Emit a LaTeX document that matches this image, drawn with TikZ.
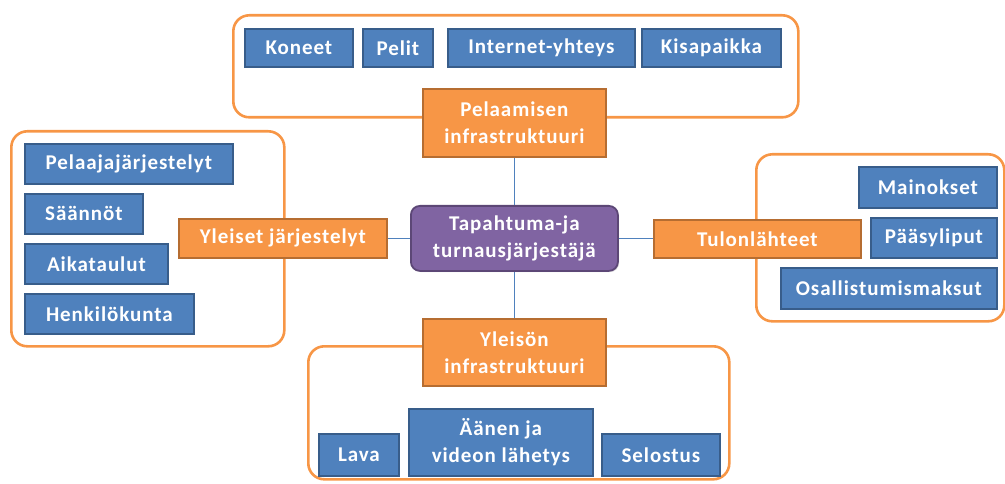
\documentclass[tikz,border=0pt]{standalone}
\usepackage{fontspec}
\setmainfont{Carlito}
\newfontfamily\boxfont[LetterSpace=4.5]{Carlito}
\usetikzlibrary{shadows}
\definecolor{bluef}{HTML}{4F81BD}
\definecolor{blueb}{HTML}{385D8A}
\definecolor{orangef}{HTML}{F79646}
\definecolor{orangeb}{HTML}{B66D31}
\definecolor{purplef}{HTML}{8064A2}
\definecolor{purpleb}{HTML}{5C4776}
\definecolor{conncol}{HTML}{4F81BD}
\begin{document}
\begin{tikzpicture}[x=1pt,y=-1pt,
  boxbase/.style={anchor=north west, inner sep=0pt, line width=1.8pt, text=white,
    align=center, font=\boxfont\bfseries\fontsize{21}{27}\selectfont,
    drop shadow={shadow xshift=1.2pt, shadow yshift=-1.2pt, opacity=0.25}},
  bluebox/.style={boxbase, draw=blueb, fill=bluef},
  orangebox/.style={boxbase, draw=orangeb, fill=orangef},
  centerbox/.style={boxbase, draw=purpleb, fill=purplef, rounded corners=9pt},
  groupbox/.style={anchor=north west, inner sep=0pt, draw=orangef, line width=2.6pt, rounded corners=16pt},
  conn/.style={draw=conncol, line width=0.9pt}
]
\useasboundingbox (0,0) rectangle (1005,484);
% group containers
\node[groupbox, minimum width=565, minimum height=102] (gtop) at (232,14) {};
\node[groupbox, minimum width=273, minimum height=215] (gleft) at (10,130) {};
\node[groupbox, minimum width=248, minimum height=167] (gright) at (755,153) {};
\node[groupbox, minimum width=421, minimum height=133] (gbottom) at (307,345) {};
% center
\node[centerbox, minimum width=207, minimum height=65] (center) at (410,205) {Tapahtuma-ja\\turnausjärjestäjä};
% categories
\node[orangebox, minimum width=183, minimum height=68] (pel) at (422,88) {Pelaamisen\\infrastruktuuri};
\node[orangebox, minimum width=208, minimum height=39] (yleiset) at (178,218) {Yleiset järjestelyt};
\node[orangebox, minimum width=207, minimum height=38] (tulo) at (653,219) {Tulonlähteet};
\node[orangebox, minimum width=183, minimum height=67] (yleison) at (422,318) {Yleisön\\infrastruktuuri};
% connectors
\draw[conn] (center.north) -- (center.north |- pel.south);
\draw[conn] (center.south) -- (center.south |- yleison.north);
\draw[conn] (center.west) -- (center.west -| yleiset.east);
\draw[conn] (center.east) -- (center.east -| tulo.west);
% top items
\node[bluebox, minimum width=108, minimum height=38] (koneet) at (244,28) {Koneet};
\node[bluebox, minimum width=70, minimum height=38] (pelit) at (362,28) {Pelit};
\node[bluebox, minimum width=187, minimum height=38] (internet) at (447,28) {Internet-yhteys};
\node[bluebox, minimum width=139, minimum height=38] (kisa) at (641,28) {Kisapaikka};
% left items
\node[bluebox, minimum width=208, minimum height=40] (pelaaja) at (24,143) {Pelaajajärjestelyt};
\node[bluebox, minimum width=118, minimum height=40] (saannot) at (24,193) {Säännöt};
\node[bluebox, minimum width=143, minimum height=40] (aika) at (24,243) {Aikataulut};
\node[bluebox, minimum width=169, minimum height=40] (henk) at (24,293) {Henkilökunta};
% right items
\node[bluebox, minimum width=138, minimum height=41] (mainos) at (858,166) {Mainokset};
\node[bluebox, minimum width=126, minimum height=40] (paasy) at (870,217) {Pääsyliput};
\node[bluebox, minimum width=216, minimum height=41] (osall) at (780,267) {Osallistumismaksut};
% bottom items
\node[bluebox, minimum width=80, minimum height=42] (lava) at (318,433) {Lava};
\node[bluebox, minimum width=184, minimum height=67] (aanen) at (408,408) {Äänen ja\\videon lähetys};
\node[bluebox, minimum width=118, minimum height=42] (selostus) at (601,433) {Selostus};
\end{tikzpicture}
\end{document}
